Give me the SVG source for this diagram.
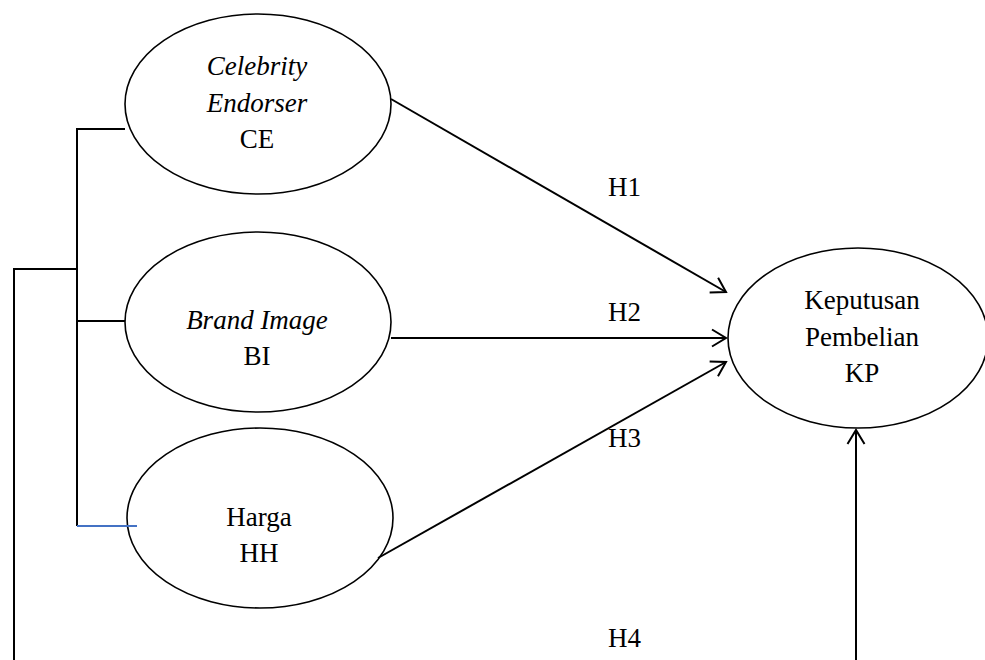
<svg xmlns="http://www.w3.org/2000/svg" width="985" height="660" viewBox="0 0 985 660">
<style>
.node ellipse{fill:#fff;stroke:#000;stroke-width:1.6}
text{font-family:"Liberation Serif","Times New Roman",serif;font-size:27px;fill:#000;text-anchor:middle}
.it{font-style:italic}
.lbl{text-anchor:start}
.c line,.c path{stroke:#000;stroke-width:2;fill:none}
</style>
<defs>
<marker id="ah" markerUnits="userSpaceOnUse" markerWidth="30" markerHeight="30" viewBox="-20 -15 30 30" refX="0" refY="0" orient="auto">
<path d="M-14,-8.5 L0,0 L-14,8.5" fill="none" stroke="#000" stroke-width="2"/>
</marker>
</defs>
<g class="node" id="CE">
<ellipse cx="258" cy="104" rx="133" ry="90"/>
<text class="it" x="257" y="75">Celebrity</text>
<text class="it" x="257" y="112">Endorser</text>
<text x="257" y="148">CE</text>
</g>
<g class="node" id="BI">
<ellipse cx="258" cy="322" rx="133" ry="90"/>
<text class="it" x="257" y="329">Brand Image</text>
<text x="257" y="365">BI</text>
</g>
<g class="node" id="HH">
<ellipse cx="260" cy="518" rx="133" ry="90"/>
<text x="259" y="526">Harga</text>
<text x="259" y="562">HH</text>
</g>
<g class="node" id="KP">
<ellipse cx="858" cy="338" rx="130" ry="90"/>
<text x="862" y="309">Keputusan</text>
<text x="862" y="346">Pembelian</text>
<text x="862" y="382">KP</text>
</g>
<g class="c" id="connectors">
<path d="M125,129 H77 V526"/>
<line x1="77" y1="321" x2="125" y2="321"/>
<line x1="77" y1="526" x2="137" y2="526" style="stroke:#4472C4"/>
<path d="M77,269 H14 V660"/>
<line x1="391" y1="99" x2="726" y2="292" marker-end="url(#ah)"/>
<line x1="391" y1="338" x2="726" y2="338" marker-end="url(#ah)"/>
<line x1="378" y1="558" x2="726" y2="362" marker-end="url(#ah)"/>
<line x1="856" y1="660" x2="856" y2="430" marker-end="url(#ah)"/>
<text class="lbl" x="608" y="196">H1</text>
<text class="lbl" x="608" y="321">H2</text>
<text class="lbl" x="608" y="447">H3</text>
<text class="lbl" x="608" y="647">H4</text>
</g>
</svg>
